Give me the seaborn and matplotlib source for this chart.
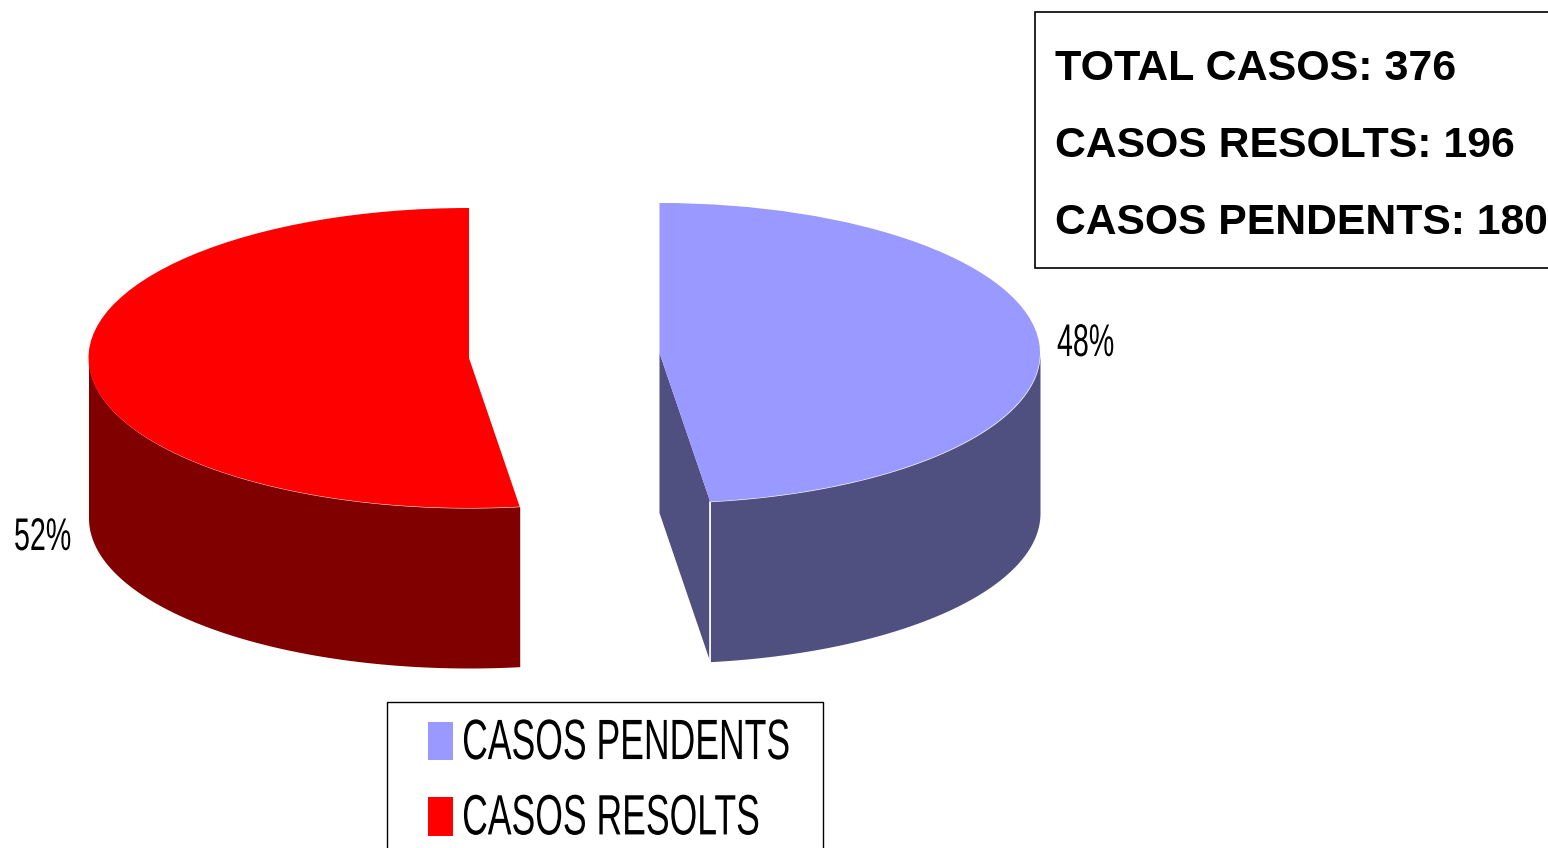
import matplotlib
matplotlib.use('Agg')
import matplotlib.pyplot as plt
from matplotlib.patches import Rectangle, Polygon
from matplotlib.patheffects import AbstractPathEffect
from matplotlib.transforms import Affine2D
import numpy as np
import seaborn as sns

# data
labels = ['CASOS PENDENTS', 'CASOS RESOLTS']
casos = [180, 196]
pct_labels = ['48%', '52%']
info_lines = ['TOTAL CASOS: 376', 'CASOS RESOLTS: 196', 'CASOS PENDENTS: 180']

top_colors = ['#9999FF', '#FF0000']
side_colors = ['#4F4F80', '#800000']

sns.set_theme(style='white')
font = ['Liberation Sans', 'DejaVu Sans']

W, H = 1548, 848
RX, RY = 380.5, 150.0   # pie radii in px
DEPTH = 160 / RY


class Tall(AbstractPathEffect):
    # the original text is condensed, no narrow font here so stretch the glyphs
    def __init__(self, k, dy=0):
        super().__init__()
        self.k = k
        self.dy = dy

    def draw_path(self, renderer, gc, tpath, affine, rgbFace=None):
        tr = Affine2D().scale(1, self.k) + affine + Affine2D().translate(0, -self.dy)
        renderer.draw_path(gc, tpath, tr, rgbFace)


fig = plt.figure(figsize=(W / 100, H / 100), dpi=100)
ax = fig.add_axes([0, 0, 1, 1])
# one data unit = one pie radius, so the round pie comes out as an ellipse
ax.set_xlim(0, W / RX)
ax.set_ylim(0, H / RY)
ax.axis('off')


def px(x, y):
    return x / RX, (H - y) / RY


centers = [px(659.5, 353), px(469, 358)]
share = casos[0] / sum(casos)
cut = 90 - share * 360   # where the two slices meet, degrees

# side walls
t_blue = np.radians(np.linspace(cut, 0, 60))
t_red = np.radians(np.linspace(360 + cut, 180, 120))
for (cx, cy), t, c in zip(centers, [t_blue, t_red], side_colors):
    x = cx + np.cos(t)
    y = cy + np.sin(t)
    ax.fill_between(x, y - DEPTH, y, color=c, lw=0, zorder=1)

# cut face of the blue slice
cx, cy = centers[0]
tx = cx + np.cos(np.radians(cut))
ty = cy + np.sin(np.radians(cut))
ax.add_patch(Polygon([(cx, cy), (tx, ty), (tx, ty - DEPTH), (cx, cy - DEPTH)],
                     fc=side_colors[0], ec='none', zorder=1))
ax.plot([tx, tx], [ty, ty - DEPTH], color='white', lw=1.2, zorder=2)

# top faces
handles = []
for i, (c, col) in enumerate(zip(centers, top_colors)):
    wedges, _ = ax.pie(casos, colors=[col, col], center=c, radius=1, startangle=90,
                       counterclock=False, frame=False, wedgeprops={'lw': 0, 'zorder': 3})
    wedges[1 - i].set_visible(False)
    handles.append(wedges[i])
ax.set_aspect('auto')
ax.set_xlim(0, W / RX)
ax.set_ylim(0, H / RY)
ax.axis('off')

# percent labels
for s, pos in zip(pct_labels, [(1057, 356), (14, 550)]):
    t = ax.text(*px(*pos), s, family=font, fontsize=20.6, va='baseline', ha='left', color='black')
    t.set_path_effects([Tall(1.6)])

# info box
x0, y0 = px(1035, 268)
x1, y1 = px(1560, 12.5)
ax.add_patch(Rectangle((x0, y0), x1 - x0, y1 - y0, fc='white', ec='black', lw=1.2, zorder=4))
for s, y, fs in zip(info_lines, [80, 157, 234], [31.0, 30.8, 30.7]):
    ax.text(*px(1055, y), s, family=font, fontsize=fs, fontweight='bold',
            va='baseline', ha='left', color='black', zorder=5)

# legend frame runs off the bottom of the picture
x0, y0 = px(387, 860)
x1, y1 = px(823, 702)
ax.add_patch(Rectangle((x0, y0), x1 - x0, y1 - y0, fc='white', ec='black', lw=1.0, zorder=4))
leg = ax.legend(handles, labels, loc='upper left', bbox_to_anchor=(428 / W, 1 - 722 / H),
                bbox_transform=fig.transFigure, frameon=False, borderaxespad=0, borderpad=0,
                prop={'family': font, 'size': 25.6}, labelcolor='black',
                handlelength=0.71, handleheight=1.28, handletextpad=0.25,
                labelspacing=1.02)
leg.set_zorder(6)
for h, col in zip(leg.legend_handles, top_colors):
    h.set_visible(True)
    h.set_facecolor(col)
for t in leg.get_texts():
    t.set_path_effects([Tall(1.6, dy=6)])

fig.savefig('out.png', dpi=100, facecolor='white')
